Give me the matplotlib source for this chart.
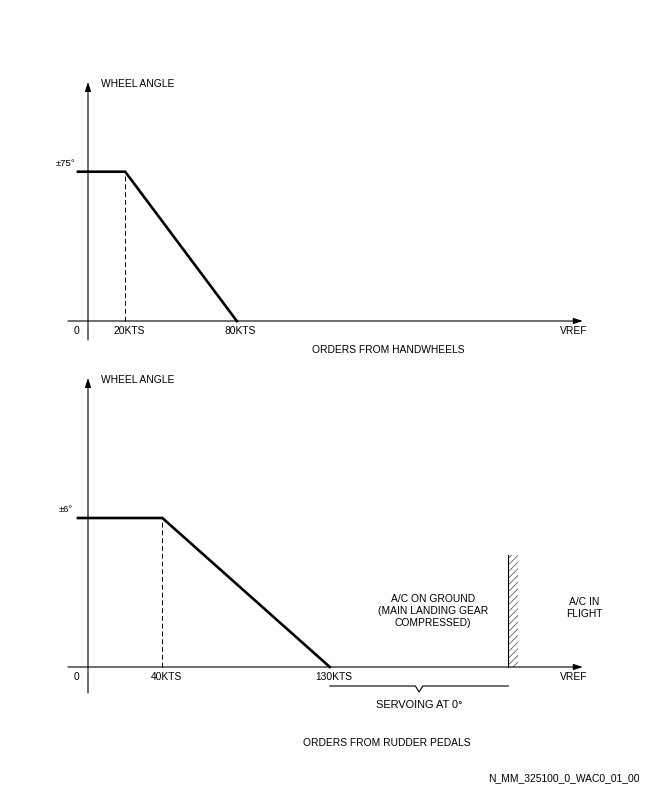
import matplotlib
matplotlib.use("Agg")
import matplotlib.pyplot as plt
from matplotlib.patches import Rectangle

plt.rcParams['font.family'] = ['Liberation Sans', 'DejaVu Sans']
plt.rcParams['hatch.linewidth'] = 0.45

# ---- data ----
hw_break_speeds = [20, 80]          # kts
hw_max_angle = 75                   # deg
hw_tick_labels = ["20KTS", "80KTS"]

rp_break_speeds = [40, 130]         # kts
rp_max_angle = 6                    # deg
rp_tick_labels = ["40KTS", "130KTS"]

vref_pos = 266                      # schematic position of VREF on the speed axis
liftoff_pos = 226                   # schematic position of the ground/flight wall
lead_in = -5.4                      # plateau drawn slightly left of the axis

W, H = 648, 792
fig = plt.figure(figsize=(W / 100, H / 100), dpi=100)

X0_PX, KT_PX = 88.0, 1.86
AX_LEFT, AX_RIGHT = 40, 600


def make_axes(top_px, bot_px, zero_px, unit_px):
    ax = fig.add_axes([AX_LEFT / W, 1 - bot_px / H, (AX_RIGHT - AX_LEFT) / W, (bot_px - top_px) / H])
    ax.set_xlim((AX_LEFT - X0_PX) / KT_PX, (AX_RIGHT - X0_PX) / KT_PX)
    ax.set_ylim(-(bot_px - zero_px) / unit_px, (zero_px - top_px) / unit_px)
    ax.axis('off')
    return ax


def px_x(px):
    return (px - X0_PX) / KT_PX


def draw_axes(ax, zero_px, unit_px, ybot_px, ytop_px):
    yb = -(ybot_px - zero_px) / unit_px
    yt = (zero_px - ytop_px) / unit_px
    arrow = dict(arrowstyle='-|>,head_length=0.55,head_width=0.18', lw=0.8,
                 color='black', shrinkA=0, shrinkB=0)
    ax.annotate('', xy=(0, yt), xytext=(0, yb), arrowprops=arrow, annotation_clip=False)
    ax.annotate('', xy=(vref_pos, 0), xytext=(px_x(68), 0), arrowprops=arrow, annotation_clip=False)


FS = 7.4

# ---------------- top chart: handwheels ----------------
t_zero, t_unit = 321.0, 149.3 / 75
ax1 = make_axes(70, 360, t_zero, t_unit)
draw_axes(ax1, t_zero, t_unit, 340, 82)
ax1.plot([lead_in, hw_break_speeds[0], hw_break_speeds[1]],
         [hw_max_angle, hw_max_angle, 0], color='black', lw=1.9, solid_joinstyle='miter')
ax1.plot([hw_break_speeds[0]] * 2, [0, hw_max_angle], color='black', lw=0.7, ls=(0, (5, 3)))
dy1 = 10 / t_unit
for s, lab in zip(hw_break_speeds, hw_tick_labels):
    ax1.text(s + 2, -dy1, lab, ha='center', va='center', fontsize=FS)
ax1.text(px_x(77), -dy1, "0", ha='center', va='center', fontsize=FS)
ax1.text(px_x(574), -dy1, "VREF", ha='center', va='center', fontsize=FS)
ax1.text(px_x(66), hw_max_angle + 8.5 / t_unit, "±75°", ha='center', va='center', fontsize=6.8)
ax1.text(px_x(101), (t_zero - 84) / t_unit, "WHEEL ANGLE", ha='left', va='center', fontsize=FS)
ax1.text(px_x(388), -(350 - t_zero) / t_unit, "ORDERS FROM HANDWHEELS", ha='center',
         va='center', fontsize=FS)

# ---------------- bottom chart: rudder pedals ----------------
b_zero, b_unit = 667.0, 149.0 / 6
ax2 = make_axes(370, 700, b_zero, b_unit)
draw_axes(ax2, b_zero, b_unit, 693, 378)
ax2.plot([lead_in, rp_break_speeds[0], rp_break_speeds[1]],
         [rp_max_angle, rp_max_angle, 0], color='black', lw=1.9, solid_joinstyle='miter')
ax2.plot([rp_break_speeds[0]] * 2, [0, rp_max_angle], color='black', lw=0.7, ls=(0, (5, 3)))
dy2 = 10 / b_unit
for s, lab in zip(rp_break_speeds, rp_tick_labels):
    ax2.text(s + 2, -dy2, lab, ha='center', va='center', fontsize=FS)
ax2.text(px_x(77), -dy2, "0", ha='center', va='center', fontsize=FS)
ax2.text(px_x(574), -dy2, "VREF", ha='center', va='center', fontsize=FS)
ax2.text(px_x(66), rp_max_angle + 8.5 / b_unit, "±6°", ha='center', va='center', fontsize=6.8)
ax2.text(px_x(101), (b_zero - 380) / b_unit, "WHEEL ANGLE", ha='left', va='center', fontsize=FS)

# ground / flight wall
wall_h = (b_zero - 555) / b_unit
ax2.add_patch(Rectangle((liftoff_pos, 0), 10 / KT_PX, wall_h, facecolor='none',
                        edgecolor='#333333', lw=0, hatch='/////'))
ax2.plot([liftoff_pos, liftoff_pos], [0, wall_h], color='black', lw=0.8)

ax2.text(px_x(433), (b_zero - 611) / b_unit, "A/C ON GROUND\n(MAIN LANDING GEAR\nCOMPRESSED)",
         ha='center', va='center', fontsize=FS, linespacing=1.3)
ax2.text(px_x(584), (b_zero - 608) / b_unit, "A/C IN\nFLIGHT", ha='center', va='center',
         fontsize=FS, linespacing=1.3)

# brace for servoing range
by = -(686 - b_zero) / b_unit
bdip = -(692 - b_zero) / b_unit
mid = (rp_break_speeds[1] + liftoff_pos) / 2
ax2.plot([rp_break_speeds[1], mid - 2, mid, mid + 2, liftoff_pos],
         [by, by, bdip, by, by], color='black', lw=0.8, clip_on=False)
ax2.text(mid, -(705 - b_zero) / b_unit, "SERVOING AT 0°", ha='center', va='center', fontsize=FS + 0.5)
ax2.text(px_x(387), -(743 - b_zero) / b_unit, "ORDERS FROM RUDDER PEDALS", ha='center',
         va='center', fontsize=FS)

fig.text(640 / W, 1 - 778 / H, "N_MM_325100_0_WAC0_01_00", ha='right', va='center', fontsize=FS)

fig.savefig("out.png", dpi=100)
